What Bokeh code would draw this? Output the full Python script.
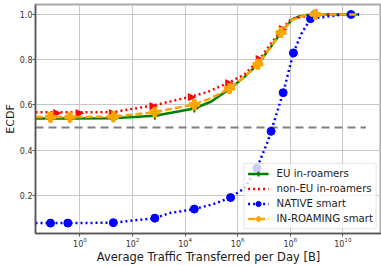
import numpy as np
from bokeh.plotting import figure
from bokeh.models import (FixedTicker, LogTickFormatter, PrintfTickFormatter, Range1d, Legend)
from bokeh.core.properties import value
from bokeh.embed import file_html
from bokeh.resources import INLINE

# ---- data (x stored as log10 of bytes) ----
eu_lx = [-1.69, -1.12, -0.38, 1.27, 2.85, 4.35, 5.0, 5.73, 6.26, 6.77, 7.22, 7.65, 8.05, 8.31, 8.56, 8.88, 10.54]
eu_y = [0.540, 0.540, 0.540, 0.541, 0.552, 0.584, 0.615, 0.674, 0.724, 0.780, 0.850, 0.920, 0.976, 0.990, 0.997, 1.0, 1.0]
eu_mlx = [-1.12, -0.38, 1.27, 2.85, 4.35, 5.73, 6.77, 7.65, 8.88]
eu_my = [0.540, 0.540, 0.541, 0.552, 0.584, 0.674, 0.780, 0.920, 1.0]

neu_lx = [-1.69, -0.85, 0.0, 1.27, 2.81, 4.27, 4.85, 5.69, 6.26, 6.85, 7.22, 7.73, 8.04, 8.96, 10.54]
neu_y = [0.567, 0.567, 0.567, 0.568, 0.598, 0.638, 0.657, 0.700, 0.735, 0.804, 0.864, 0.940, 0.981, 1.0, 1.0]
neu_mlx = [-0.85, 0.0, 1.27, 2.81, 4.27, 5.69, 6.85, 7.73, 8.96]
neu_my = [0.567, 0.567, 0.568, 0.598, 0.638, 0.700, 0.804, 0.940, 1.0]

nat_lx = [-1.69, -1.12, -0.46, 1.27, 2.85, 3.42, 4.35, 5.04, 5.73, 6.26, 6.73, 7.15, 7.27, 7.73, 7.92, 8.12, 8.42, 8.77, 10.0, 10.31, 10.62]
nat_y = [0.078, 0.077, 0.077, 0.079, 0.099, 0.122, 0.139, 0.160, 0.190, 0.232, 0.320, 0.440, 0.483, 0.654, 0.740, 0.830, 0.914, 0.981, 0.999, 1.0, 1.0]
nat_mlx = [-1.12, -0.46, 1.27, 2.85, 4.35, 5.73, 6.73, 7.27, 7.73, 8.12, 8.77, 10.31]
nat_my = [0.077, 0.077, 0.079, 0.099, 0.139, 0.190, 0.320, 0.483, 0.654, 0.830, 0.981, 1.0]

inr_lx = [-1.69, -1.12, -0.38, 1.27, 2.85, 4.35, 5.0, 5.69, 6.26, 6.77, 7.22, 7.65, 8.05, 8.56, 8.96, 10.54]
inr_y = [0.546, 0.546, 0.546, 0.548, 0.568, 0.602, 0.630, 0.673, 0.724, 0.780, 0.850, 0.920, 0.975, 0.997, 1.0, 1.0]
inr_mlx = [-1.12, -0.38, 1.27, 2.85, 4.35, 5.69, 6.77, 7.65, 8.96]
inr_my = [0.546, 0.546, 0.548, 0.568, 0.602, 0.673, 0.780, 0.920, 1.0]

half_lx = [-1.69, 10.88]
half_y = [0.5, 0.5]

x_ticks = [0, 2, 4, 6, 8, 10]
y_ticks = [0.2, 0.4, 0.6, 0.8, 1.0]


def pw(a):
    return [10.0 ** v for v in a]


FONT = "DejaVu Sans"

p = figure(width=381, height=266, x_axis_type="log", output_backend="svg",
           toolbar_location=None,
           x_range=Range1d(10 ** -1.69, 10 ** 11.47), y_range=Range1d(0.0311, 1.044))
p.min_border_top = 4
p.min_border_right = 0
p.min_border_left = 0
p.min_border_bottom = 0
p.background_fill_color = "white"
p.border_fill_color = "white"
p.outline_line_color = "#aaaaaa"
p.outline_line_width = 2

p.xaxis.ticker = FixedTicker(ticks=pw(x_ticks))
p.xaxis.formatter = LogTickFormatter()
p.yaxis.ticker = FixedTicker(ticks=y_ticks)
p.yaxis.formatter = PrintfTickFormatter(format="%.1f")
for ax in (p.xaxis, p.yaxis):
    ax.major_label_text_font = FONT
    ax.major_label_text_font_size = "8px"
    ax.major_label_text_color = "#333333"
    ax.axis_label_text_font = FONT
    ax.axis_label_text_font_size = "11px"
    ax.axis_label_text_font_style = "normal"
    ax.axis_label_text_color = "#222222"
    ax.minor_tick_line_color = None
    ax.major_tick_line_color = "#555555"
    ax.major_tick_out = 3
    ax.major_tick_in = 0
    ax.axis_line_color = "#555555"
    ax.axis_line_width = 1.5
    ax.major_label_standoff = 0
    ax.axis_label_standoff = 0
p.xaxis.axis_label_text_font_size = "11.5px"
p.xaxis.axis_label = "Average Traffic Transferred per Day [B]"
p.yaxis.axis_label = "ECDF"
p.xgrid.ticker = FixedTicker(ticks=pw(x_ticks))
p.ygrid.ticker = FixedTicker(ticks=y_ticks)
p.grid.grid_line_color = "#c8c8c8"
p.grid.grid_line_width = 1

p.line(pw(half_lx), half_y, line_color="gray", line_width=2, line_dash="8 5")

r1 = p.line(pw(eu_lx), eu_y, line_color="green", line_width=2.5)
m1 = p.scatter(pw(eu_mlx), eu_my, marker="cross", size=8, line_color="green", line_width=2)

r2 = p.line(pw(neu_lx), neu_y, line_color="red", line_width=2.5, line_dash="2 3")
m2 = p.text(pw(neu_mlx), neu_my, text=["\u25B6"] * len(neu_mlx), text_color="red",
            text_font=value(FONT), text_font_size="11px",
            text_align="center", text_baseline="middle")

r3 = p.line(pw(nat_lx), nat_y, line_color="blue", line_width=2.5, line_dash="2 3")
m3 = p.scatter(pw(nat_mlx), nat_my, marker="circle", size=8, fill_color="blue", line_color="blue")

r4 = p.line(pw(inr_lx), inr_y, line_color="orange", line_width=2.5, line_dash="7 3")
m4 = p.scatter(pw(inr_mlx), inr_my, marker="plus", size=10, fill_color="orange", line_color="orange")

legend = Legend(items=[("EU in-roamers", [r1, m1]),
                       ("non-EU in-roamers", [r2, m2]),
                       ("NATIVE smart", [r3, m3]),
                       ("IN-ROAMING smart", [r4, m4])],
                location="bottom_right")
legend.label_text_font = FONT
legend.label_text_font_size = "10.2px"
legend.label_text_color = "#222222"
legend.glyph_width = 21
legend.glyph_height = 13
legend.label_height = 13
legend.spacing = 2
legend.padding = 3
legend.margin = 4
legend.label_standoff = 8
legend.border_line_color = "#cccccc"
legend.background_fill_alpha = 0.8
p.add_layout(legend)

open("out.html", "w").write(file_html(p, INLINE))
